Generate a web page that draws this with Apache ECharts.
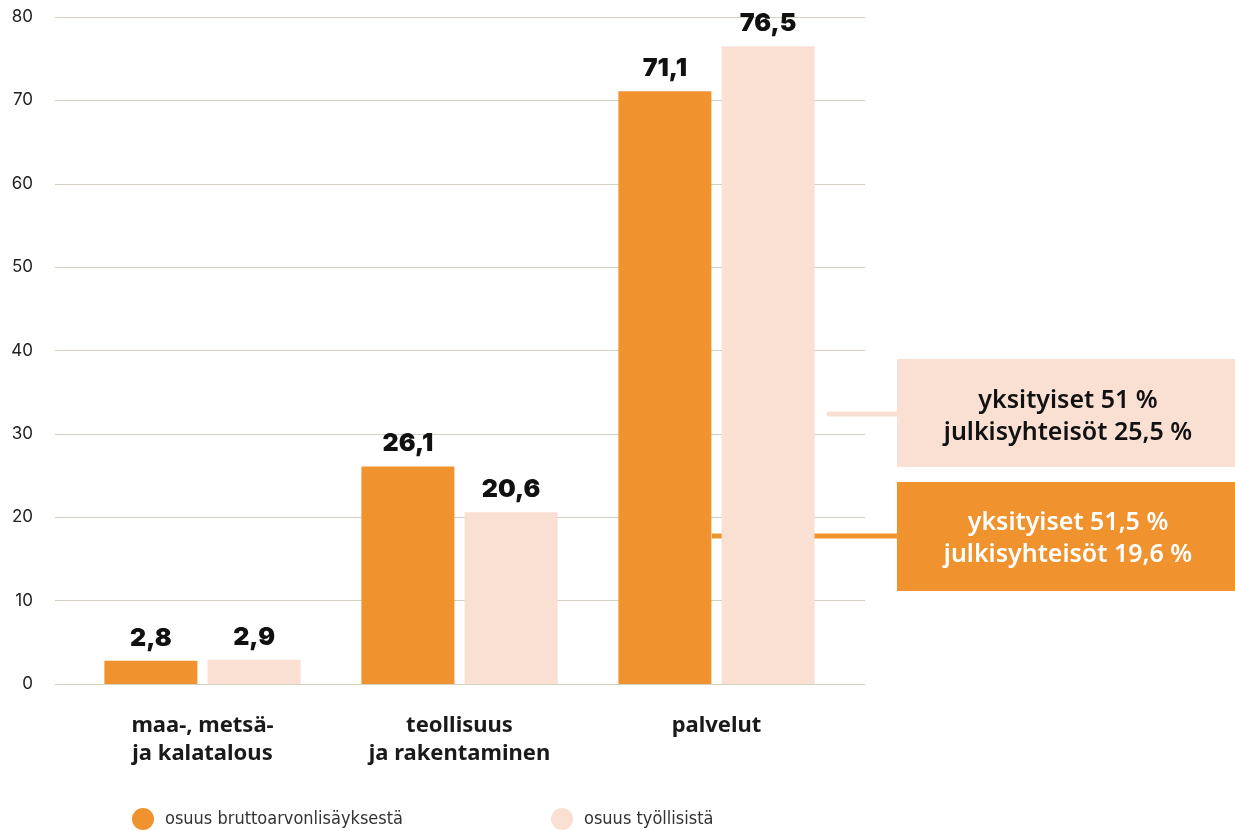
<!DOCTYPE html>
<html>
<head>
<meta charset="utf-8">
<script src="https://cdn.jsdelivr.net/npm/echarts@6/dist/echarts.min.js"></script>
<style>
  html, body { margin: 0; padding: 0; background: #fff; }
  #chart { width: 1235px; height: 831px; }
</style>
</head>
<body>
<div id="chart"></div>
<script>
const categories = ['maa-, metsä-\nja kalatalous', 'teollisuus\nja rakentaminen', 'palvelut'];
const seriesNames = ['osuus bruttoarvonlisäyksestä', 'osuus työllisistä'];
const valueAdded = [2.8, 26.1, 71.1];
const employment = [2.9, 20.6, 76.5];
const yTicks = [0, 10, 20, 30, 40, 50, 60, 70, 80];
const noteEmployment = ['yksityiset 51 %', 'julkisyhteisöt 25,5 %'];
const noteValueAdded = ['yksityiset 51,5 %', 'julkisyhteisöt 19,6 %'];

const ORANGE = '#F0922E';
const PEACH = '#FADFD3';
const GRID = '#D6D0C2';
const FONT = 'Inter, "Noto Sans", sans-serif';
const WIDE = '"Noto Sans", Inter, sans-serif';
const NARROW = '"DejaVu Sans Condensed", sans-serif';

const fmt = v => String(v).replace('.', ',');

function draw() {
  const chart = echarts.init(document.getElementById('chart'));
  const option = {
    animation: false,
    textStyle: { fontFamily: FONT },
    legend: {
      data: seriesNames,
      left: 132,
      top: 808,
      padding: 0,
      icon: 'circle',
      itemWidth: 22,
      itemHeight: 22,
      itemGap: 148,
      textStyle: { fontSize: 18, color: '#333', fontFamily: NARROW, padding: [0, 0, 0, 6] }
    },
    grid: [
      { left: 55, right: 370, top: 17, bottom: 147 },
      { left: 74, width: 771, top: 17, bottom: 147 }
    ],
    xAxis: [
      { type: 'category', gridIndex: 0, data: categories, show: false },
      {
        type: 'category', gridIndex: 1, data: categories,
        axisLine: { show: false }, axisTick: { show: false },
        axisLabel: {
          margin: 28, fontSize: 22, fontWeight: 700, color: '#1a1a1a',
          lineHeight: 28, fontFamily: WIDE
        }
      }
    ],
    yAxis: [
      {
        type: 'value', gridIndex: 0, min: yTicks[0], max: yTicks[yTicks.length - 1], interval: 10,
        axisLine: { show: false }, axisTick: { show: false },
        axisLabel: { margin: 22, fontSize: 17, color: '#222', fontFamily: FONT },
        splitLine: { lineStyle: { color: GRID, width: 1 } }
      },
      {
        type: 'value', gridIndex: 1, min: 0, max: 80, interval: 10, show: false,
        splitLine: { show: false }
      }
    ],
    series: [
      {
        name: seriesNames[0], type: 'bar', xAxisIndex: 1, yAxisIndex: 1,
        data: valueAdded, barWidth: 93, barGap: '11%',
        itemStyle: { color: ORANGE }, z: 3,
        label: {
          show: true, position: 'top', distance: 10, formatter: p => fmt(p.value),
          fontSize: 25, fontWeight: 900, color: '#111', fontFamily: FONT
        }
      },
      {
        name: seriesNames[1], type: 'bar', xAxisIndex: 1, yAxisIndex: 1,
        data: employment, barWidth: 93,
        itemStyle: { color: PEACH }, z: 3,
        label: {
          show: true, position: 'top', distance: 10, formatter: p => fmt(p.value),
          fontSize: 25, fontWeight: 900, color: '#111', fontFamily: FONT
        }
      }
    ],
    graphic: [
      // connector lines (behind bars)
      { type: 'line', z: 1, shape: { x1: 712, y1: 536, x2: 901, y2: 536 },
        style: { stroke: ORANGE, lineWidth: 5 } },
      { type: 'line', z: 1, shape: { x1: 829, y1: 414, x2: 901, y2: 414 },
        style: { stroke: PEACH, lineWidth: 5, lineCap: 'round' } },
      // note boxes
      { type: 'rect', z: 5, shape: { x: 897, y: 359, width: 338, height: 108 },
        style: { fill: PEACH } },
      { type: 'text', z: 6, x: 1068, y: 417,
        style: { text: noteEmployment.join('\n'), align: 'center', verticalAlign: 'middle',
          font: '600 25px ' + WIDE, lineHeight: 32, fill: '#111' } },
      { type: 'rect', z: 5, shape: { x: 897, y: 482, width: 338, height: 109 },
        style: { fill: ORANGE } },
      { type: 'text', z: 6, x: 1068, y: 539,
        style: { text: noteValueAdded.join('\n'), align: 'center', verticalAlign: 'middle',
          font: '600 25px ' + WIDE, lineHeight: 32, fill: '#fff' } }
    ]
  };
  chart.setOption(option);
  window.addEventListener('resize', () => chart.resize());
}

Promise.all([
  document.fonts.load('900 25px Inter'),
  document.fonts.load('17px Inter'),
  document.fonts.load('700 22px "Noto Sans"'),
  document.fonts.load('600 25px "Noto Sans"'),
  document.fonts.load('18px "DejaVu Sans Condensed"')
]).then(draw, draw);
</script>
</body>
</html>
